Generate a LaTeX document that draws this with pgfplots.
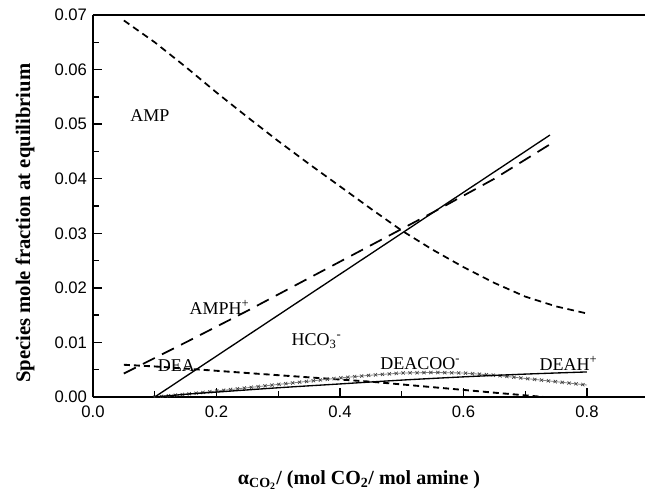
\documentclass[border=0pt]{standalone}
\usepackage{fontspec}
\setmainfont{Liberation Serif}
\setsansfont{Liberation Sans}
\usepackage{pgfplots}
\pgfplotsset{compat=1.18}
\usetikzlibrary{decorations.markings}
\begin{document}
\begin{tikzpicture}
\useasboundingbox (-69.75pt,-74.25pt) rectangle (414pt,297.75pt);
\begin{axis}[
  at={(0,0)}, anchor=south west, scale only axis,
  width=414pt, height=286.5pt,
  disabledatascaling,
  xmin=0, xmax=0.894, ymin=0, ymax=0.07,
  axis x line=box, axis y line=left,
  axis line style={-, line width=1.2pt},
  xtick={0,0.2,0.4,0.6,0.8}, minor xtick={0.1,0.3,0.5,0.7},
  ytick={0,0.01,0.02,0.03,0.04,0.05,0.06,0.07},
  minor ytick={0.005,0.015,0.025,0.035,0.045,0.055,0.065},
  xtick pos=bottom, ytick pos=left,
  tick align=inside,
  major tick length=7pt, minor tick length=4.5pt,
  every tick/.style={black, line width=1pt},
  x tick label style={yshift=-3pt, /pgf/number format/.cd, fixed, fixed zerofill, precision=1},
  y tick label style={xshift=-1pt, /pgf/number format/.cd, fixed, fixed zerofill, precision=2},
  tick label style={font=\sffamily\fontsize{12.5}{14}\selectfont},
  /pgf/number format/assume math mode=true,
  scaled y ticks=false,
  xlabel={α\textsubscript{CO\textsubscript{2}}/ (mol CO\textsubscript{2}/ mol amine )},
  ylabel={Species mole fraction at equilibrium},
  xlabel style={font=\bfseries\fontsize{15}{17}\selectfont, at={(axis description cs:0.482,-0.218)}, anchor=center},
  ylabel style={font=\bfseries\fontsize{15.5}{17}\selectfont, at={(axis description cs:-0.1232,0.455)}, anchor=center},
  every axis plot/.append style={black, line width=1pt},
]
% AMP
\addplot[dash pattern=on 5pt off 3.5pt, line width=1.3pt] coordinates {
(0.05,0.0690)(0.1,0.0650)(0.15,0.0605)(0.2,0.0558)(0.25,0.0513)(0.3,0.0469)
(0.35,0.0427)(0.4,0.0386)(0.45,0.0345)(0.5,0.0305)(0.55,0.0270)(0.6,0.0238)
(0.65,0.0209)(0.7,0.0184)(0.75,0.0166)(0.8,0.0153)};
% AMPH+
\addplot[dash pattern=on 10pt off 6pt, line width=1.3pt] coordinates {
(0.05,0.0043)(0.15,0.0100)(0.25,0.0158)(0.35,0.0218)(0.45,0.0278)(0.55,0.0338)
(0.65,0.0400)(0.74,0.0463)};
% HCO3-
\addplot[solid] coordinates {(0.1,0.0)(0.74,0.048)};
% DEA
\addplot[dash pattern=on 4.5pt off 3pt, line width=1.4pt] coordinates {
(0.05,0.0059)(0.1,0.0056)(0.15,0.0052)(0.2,0.0048)(0.25,0.0044)(0.3,0.0040)
(0.35,0.0036)(0.4,0.0032)(0.45,0.0028)(0.5,0.0023)(0.55,0.0018)(0.6,0.0013)
(0.65,0.0008)(0.7,0.0003)(0.73,0.0000)};
% DEACOO-
\addplot[gray, line width=0.6pt,
  postaction={decorate},
  decoration={markings, mark=between positions 0 and 1 step 5.2pt with {
    \draw[black!75, line width=0.5pt] (-1.2pt,-1.2pt)--(1.2pt,1.2pt) (-1.2pt,1.2pt)--(1.2pt,-1.2pt);}}]
 coordinates {
(0.1,0.0)(0.15,0.0005)(0.2,0.0011)(0.25,0.0017)(0.3,0.0023)(0.35,0.0029)
(0.4,0.0035)(0.45,0.0040)(0.5,0.0044)(0.55,0.0045)(0.6,0.0044)(0.65,0.0040)
(0.7,0.0034)(0.75,0.0028)(0.8,0.0022)};
% DEAH+
\addplot[solid, smooth] coordinates {
(0.1,0.0)(0.15,0.0005)(0.2,0.0009)(0.3,0.0017)(0.4,0.0024)(0.5,0.0031)
(0.6,0.0037)(0.7,0.0042)(0.8,0.0046)};
% labels
\node[font=\fontsize{13.5}{15}\selectfont] at (axis cs:0.092,0.0515) {AMP};
\node[font=\fontsize{13.5}{15}\selectfont] at (axis cs:0.205,0.0165) {AMPH\textsuperscript{+}};
\node[font=\fontsize{13.5}{15}\selectfont] at (axis cs:0.362,0.0102) {HCO\textsubscript{3}\textsuperscript{-}};
\node[font=\fontsize{13.5}{15}\selectfont] at (axis cs:0.135,0.0058) {DEA};
\node[font=\fontsize{13.5}{15}\selectfont] at (axis cs:0.53,0.0062) {DEACOO\textsuperscript{-}};
\node[font=\fontsize{13.5}{15}\selectfont] at (axis cs:0.77,0.0062) {DEAH\textsuperscript{+}};
\end{axis}
\end{tikzpicture}
\end{document}
